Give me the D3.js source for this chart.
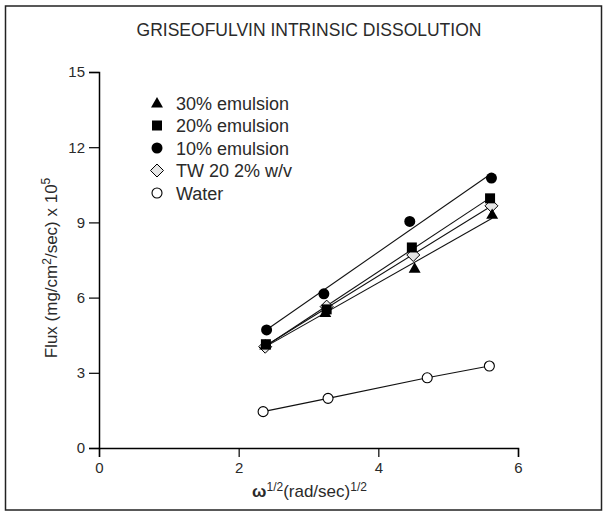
<!DOCTYPE html>
<html>
<head>
<meta charset="utf-8">
<script src="https://cdn.jsdelivr.net/npm/d3@7"></script>
<style>
  body { margin: 0; background: #fff; }
  svg text { font-family: "Liberation Sans", Arial, sans-serif; fill: #2a2a2a; }
</style>
</head>
<body>
<div id="chart"></div>
<script>
// data
var seriesNames = ["30% emulsion", "20% emulsion", "10% emulsion", "TW 20 2% w/v", "Water"];
var seriesSymbols = ["triangle", "square", "circle", "diamond", "open"];
var tri30X = [2.38, 3.24, 4.52, 5.63];
var tri30Y = [4.11, 5.40, 7.17, 9.32];
var sq20X = [2.39, 3.26, 4.48, 5.60];
var sq20Y = [4.14, 5.53, 8.00, 9.96];
var dot10X = [2.40, 3.22, 4.45, 5.62];
var dot10Y = [4.71, 6.15, 9.04, 10.77];
var twX = [2.38, 3.26, 4.50, 5.62];
var twY = [4.04, 5.64, 7.70, 9.66];
var waterX = [2.35, 3.28, 4.70, 5.59];
var waterY = [1.45, 1.98, 2.80, 3.27];
var xTicks = [0, 2, 4, 6];
var yTicks = [0, 3, 6, 9, 12, 15];

var svgWidth = 611;
var svgHeight = 512;
var margin = { top: 72, right: 93, bottom: 64, left: 99 };
var width = svgWidth - margin.left - margin.right;
var height = svgHeight - margin.top - margin.bottom;

var svg = d3.select("#chart").append("svg")
  .attr("width", svgWidth)
  .attr("height", svgHeight);

// frame
svg.append("rect")
  .attr("x", 5.5).attr("y", 6)
  .attr("width", 596).attr("height", 504)
  .attr("fill", "none")
  .attr("stroke", "#222")
  .attr("stroke-width", 1.5);

svg.append("text")
  .attr("x", 309).attr("y", 36)
  .attr("text-anchor", "middle")
  .attr("font-size", 17.5)
  .text("GRISEOFULVIN INTRINSIC DISSOLUTION");

var chartGroup = svg.append("g")
  .attr("transform", `translate(${margin.left}, ${margin.top})`);

var x = d3.scaleLinear().domain([0, 6]).range([0, width]);
var y = d3.scaleLinear().domain([0, 15]).range([height, 0]);

var xAxis = chartGroup.append("g")
  .attr("transform", `translate(0, ${height})`)
  .call(d3.axisBottom(x).tickValues(xTicks).tickFormat(d3.format("d")).tickSize(9).tickPadding(5));
var yAxis = chartGroup.append("g")
  .call(d3.axisLeft(y).tickValues(yTicks).tickFormat(d3.format("d")).tickSize(10).tickPadding(4));

[xAxis, yAxis].forEach(function(ax) {
  ax.select(".domain").attr("stroke", "#000").attr("stroke-width", 1.5);
  ax.selectAll(".tick line").attr("stroke", "#000").attr("stroke-width", 1.2);
  ax.selectAll(".tick text")
    .attr("font-size", 15)
    .attr("font-family", "Liberation Sans, Arial, sans-serif")
    .attr("fill", "#2a2a2a");
});

// axis labels
var yLabel = chartGroup.append("text")
  .attr("transform", "rotate(-90)")
  .attr("x", -196)
  .attr("y", -42)
  .attr("text-anchor", "middle")
  .attr("font-size", 17);
yLabel.append("tspan").text("Flux (mg/cm");
yLabel.append("tspan").attr("dy", -6).attr("font-size", 12).text("2");
yLabel.append("tspan").attr("dy", 6).text("/sec) x 10");
yLabel.append("tspan").attr("dy", -7).attr("font-size", 12).text("5");

var xLabel = chartGroup.append("text")
  .attr("x", width / 2 + 1)
  .attr("y", height + 49)
  .attr("text-anchor", "middle")
  .attr("font-size", 17);
xLabel.append("tspan").attr("font-weight", "bold").text("ω");
xLabel.append("tspan").attr("dy", -6).attr("font-size", 12).text("1/2");
xLabel.append("tspan").attr("dy", 6).text("(rad/sec)");
xLabel.append("tspan").attr("dy", -6).attr("font-size", 12).text("1/2");

var series = [
  { name: seriesNames[0], sym: seriesSymbols[0], xs: tri30X, ys: tri30Y, fit: true },
  { name: seriesNames[1], sym: seriesSymbols[1], xs: sq20X, ys: sq20Y, fit: true },
  { name: seriesNames[2], sym: seriesSymbols[2], xs: dot10X, ys: dot10Y, fit: true },
  { name: seriesNames[3], sym: seriesSymbols[3], xs: twX, ys: twY, fit: true },
  { name: seriesNames[4], sym: seriesSymbols[4], xs: waterX, ys: waterY, fit: false }
];

// least squares line through a series
function linFit(xs, ys) {
  var mx = d3.mean(xs), my = d3.mean(ys);
  var num = d3.sum(xs, (v, i) => (v - mx) * (ys[i] - my));
  var den = d3.sum(xs, v => (v - mx) * (v - mx));
  var b = num / den;
  return { a: my - b * mx, b: b };
}

var line = d3.line().x(d => x(d[0])).y(d => y(d[1]));

series.forEach(function(s) {
  var pts;
  if (s.fit) {
    var f = linFit(s.xs, s.ys);
    var x0 = d3.min(s.xs), x1 = d3.max(s.xs);
    pts = [[x0, f.a + f.b * x0], [x1, f.a + f.b * x1]];
  } else {
    pts = s.xs.map((v, i) => [v, s.ys[i]]);
  }
  chartGroup.append("path")
    .datum(pts)
    .attr("d", line)
    .attr("fill", "none")
    .attr("stroke", "#111")
    .attr("stroke-width", 1.1);
});

function drawMarker(g, sym, cx, cy) {
  if (sym === "triangle") {
    g.append("path")
      .attr("d", d3.symbol(d3.symbolTriangle, 62)())
      .attr("transform", `translate(${cx}, ${cy + 1})`)
      .attr("fill", "#000");
  } else if (sym === "square") {
    g.append("rect")
      .attr("x", cx - 5).attr("y", cy - 5)
      .attr("width", 10).attr("height", 10)
      .attr("fill", "#000");
  } else if (sym === "circle") {
    g.append("circle")
      .attr("cx", cx).attr("cy", cy).attr("r", 5.5)
      .attr("fill", "#000");
  } else if (sym === "diamond") {
    g.append("path")
      .attr("d", `M${cx},${cy - 6.5}L${cx + 6.5},${cy}L${cx},${cy + 6.5}L${cx - 6.5},${cy}Z`)
      .attr("fill", "#e6e6e6")
      .attr("stroke", "#000")
      .attr("stroke-width", 1);
  } else {
    g.append("circle")
      .attr("cx", cx).attr("cy", cy).attr("r", 5)
      .attr("fill", "#fff")
      .attr("stroke", "#000")
      .attr("stroke-width", 1.1);
  }
}

// markers: draw water first, then the rest so the filled ones sit on top
var markerGroup = chartGroup.append("g");
[4, 3, 0, 1, 2].forEach(function(k) {
  var s = series[k];
  s.xs.forEach(function(v, i) {
    drawMarker(markerGroup, s.sym, x(v), y(s.ys[i]));
  });
});

// legend
var legend = svg.append("g").attr("transform", "translate(157, 103)");
series.forEach(function(s, i) {
  var row = legend.append("g").attr("transform", `translate(0, ${i * 22.5})`);
  drawMarker(row, s.sym, 0, 0);
  row.append("text")
    .attr("x", 19)
    .attr("y", 6.5)
    .attr("font-size", 18)
    .text(s.name);
});
</script>
</body>
</html>
